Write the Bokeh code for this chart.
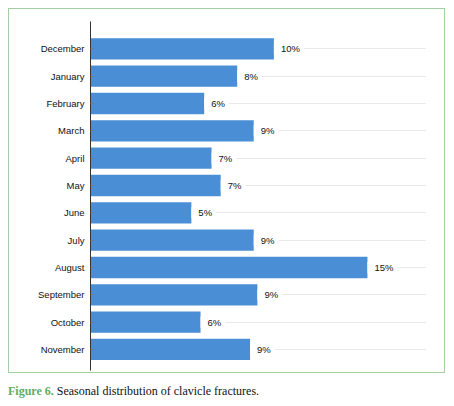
from bokeh.plotting import figure
from bokeh.models import Range1d, ColumnDataSource, Div, FixedTicker
from bokeh.layouts import column
from bokeh.embed import file_html
from bokeh.resources import INLINE
from bokeh.core.properties import value

months = ["December", "January", "February", "March", "April", "May",
          "June", "July", "August", "September", "October", "November"]
percent = [10.0, 8.0, 6.2, 8.9, 6.6, 7.1, 5.5, 8.9, 15.1, 9.1, 6.0, 8.7]
labels = ["10%", "8%", "6%", "9%", "7%", "7%", "5%", "9%", "15%", "9%", "6%", "9%"]

pos = list(range(len(months)))
src = ColumnDataSource(dict(pos=pos, month=months, pct=percent, label=labels))

p = figure(width=437, height=365,
           y_range=Range1d(len(months) - 1 + 0.77, -1.0),
           x_range=Range1d(0, 18.32),
           output_backend="svg", toolbar_location=None,
           min_border_left=81, min_border_right=20,
           min_border_top=12, min_border_bottom=4,
           styles={"border": "1px solid #a3cfa3"})
p.outline_line_color = None
p.xaxis.visible = False
p.xgrid.grid_line_color = None
p.ygrid.grid_line_color = "#d3d3d3"
p.ygrid.grid_line_dash = "1 1"
p.ygrid.grid_line_width = 1

ax = p.yaxis[0]
ax.ticker = FixedTicker(ticks=pos, minor_ticks=[])
ax.major_label_overrides = {i: m for i, m in zip(pos, months)}
ax.axis_line_color = "#333333"
ax.major_tick_in = 3
ax.major_tick_out = 0
ax.major_tick_line_color = "#777777"
ax.minor_tick_line_color = None
ax.major_label_text_font = "Liberation Sans"
ax.major_label_text_font_size = "9.5px"
ax.major_label_text_color = "#111111"
ax.major_label_standoff = 6

p.hbar(y="pos", right="pct", left=0, height=0.78, source=src,
       fill_color="#4a8fd6", line_color=None)

p.text(x="pct", y="pos", text="label", source=src, x_offset=0,
       text_baseline="middle", text_align="left",
       text_font=value("Liberation Sans"), text_font_size="9.5px",
       text_color="#111111", background_fill_color="white",
       padding=dict(left=7, right=4, top=0, bottom=0))

caption = Div(text='<span style="color:#5fae5f;font-weight:bold">Figure 6.</span> '
                   'Seasonal distribution of clavicle fractures.',
              styles={"font-family": "Liberation Serif", "font-size": "12px",
                      "color": "#111111"},
              margin=(10, 0, 0, 0), width=437)

layout = column(p, caption, spacing=0, margin=(8, 0, 0, 8))
open("out.html", "w").write(file_html(layout, INLINE))
